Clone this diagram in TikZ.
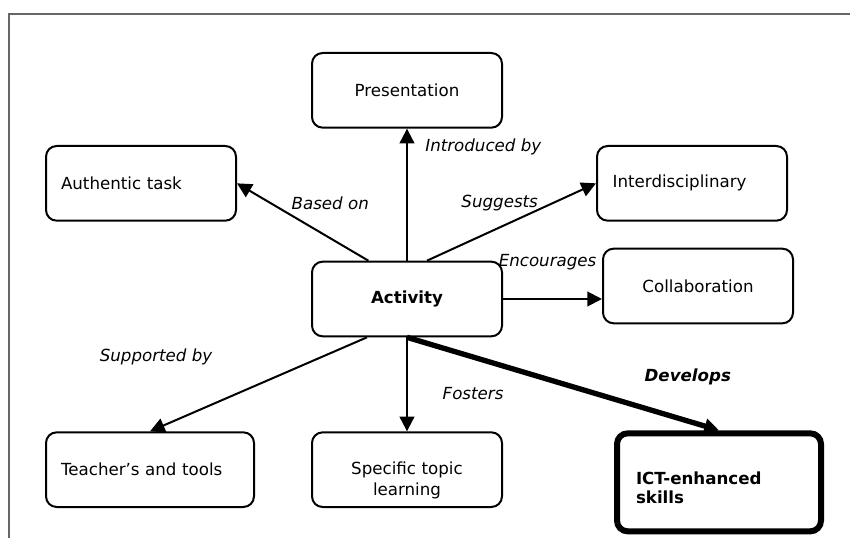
\documentclass[tikz,border=0pt]{standalone}
\usepackage{fontspec}
\setmainfont{DejaVu Sans}
\usetikzlibrary{positioning,arrows.meta}

\begin{document}
\begin{tikzpicture}[
    x=0.75pt, y=-0.75pt,
    font=\fontsize{12.5}{15}\selectfont,
    concept/.style={rectangle, draw=black, line width=1.5pt, fill=white, rounded corners=8pt, minimum width=142.5pt, minimum height=56pt, align=center},
    lconcept/.style={concept, align=left, inner xsep=11.25pt, text width=#1},
    keyconcept/.style={concept, line width=4.5pt, minimum width=153pt, minimum height=73.5pt, text width=124.5pt, text height=18pt, align=left, font=\fontsize{12.5}{14.25}\selectfont\bfseries},
    link/.style={-{Triangle[length=11pt, width=11pt]}, line width=1.5pt},
    mainlink/.style={link, line width=4pt},
    linklabel/.style={font=\fontsize{12.5}{15}\selectfont\itshape, inner sep=0pt},
    frame/.style={draw=black!60, line width=1.5pt}
]
    \useasboundingbox (0,0) rectangle (850,538);
    \draw[frame] (9,538) -- (9,14) -- (850,14);

    \node[concept] (act) at (407,299) {\textbf{Activity}};
    \node[concept, above=99pt of act] (pres) {Presentation};
    \node[lconcept=120pt, above left=29.25pt and 55.5pt of act] (auth) {Authentic task};
    \node[lconcept=119pt, above right=29.25pt and 69.75pt of act] (inter) {Interdisciplinary};
    \node[concept, right=74.25pt of act, yshift=9.75pt] (collab) {Collaboration};
    \node[lconcept=133.5pt, below left=70.5pt and 42pt of act] (teach) {Teacher’s and tools};
    \node[concept, below=70.5pt of act, text width=120pt, inner xsep=11.25pt, text height=26pt, font=\fontsize{12.5}{15.75}\selectfont] (spec) {Specific topic\\learning};
    \node[keyconcept, below right=69.75pt and 83.25pt of act] (ict) {ICT-enhanced\\skills};

    \draw[link] (act) -- node[linklabel, pos=0.86, right=13pt] (lintro) {Introduced by} (pres);
    \draw[link] ([xshift=-29pt]act.north) -- node[linklabel, pos=0.29, yshift=26pt] (lbased) {Based on} (auth.east);
    \draw[link] ([xshift=15pt]act.north) -- node[linklabel, pos=0.43, yshift=18pt] (lsugg) {Suggests} (inter.west);
    \draw[link] (act.east) -- node[linklabel, pos=0.45, yshift=28pt] (lenc) {Encourages} (act.east -| collab.west);
    \draw[link] ([xshift=-30pt]act.south) -- node[linklabel, pos=0.8, xshift=-28pt, yshift=42pt] (lsupp) {Supported by} (teach.north);
    \draw[link] (act) -- node[linklabel, pos=0.6, right=26pt] (lfost) {Fosters} (spec);
    \draw[mainlink] (act.south) -- node[linklabel, pos=0.9, yshift=33pt, font=\fontsize{12.5}{15}\selectfont\bfseries\itshape] (ldev) {Develops} (ict.north);
\end{tikzpicture}
\end{document}
